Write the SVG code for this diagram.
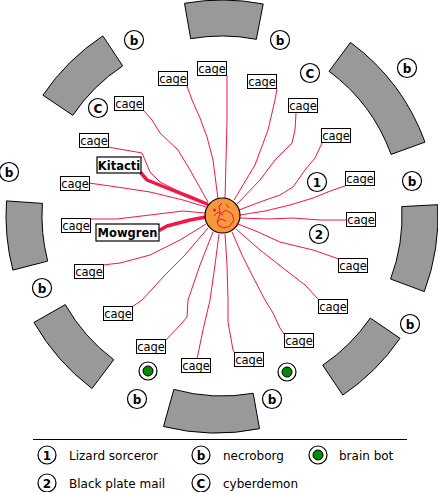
<svg xmlns="http://www.w3.org/2000/svg" width="438" height="492" viewBox="0 0 438 492">
<style>
.seg{fill:#999999;stroke:#000;stroke-width:1}
.cage rect{fill:#fff;stroke:#000;stroke-width:1}
.cage text{font-family:"DejaVu Sans",sans-serif;font-size:11.5px;text-anchor:middle;fill:#000}
.named rect{fill:#fff;stroke:#000;stroke-width:1.2}
.named text{font-family:"DejaVu Sans",sans-serif;font-size:11.5px;font-weight:bold;text-anchor:middle;fill:#000}
.badge circle{fill:#fff;stroke:#000;stroke-width:1.2}
.badge text{font-family:"DejaVu Sans",sans-serif;font-size:12px;font-weight:bold;text-anchor:middle;fill:#000}
.bot circle.o{fill:#fff;stroke:#000;stroke-width:1.2}
.bot circle.i{fill:#008a00;stroke:#000;stroke-width:1}
.wire{fill:none;stroke:#f01846;stroke-width:1}
.thick{fill:none;stroke:#f01846;stroke-width:3.5;stroke-linecap:round;stroke-linejoin:round}
.leg{font-family:"DejaVu Sans",sans-serif;font-size:12px;fill:#000}
</style>

<g id="ring">
<path class="seg" d="M263.2,4.0 A216,216 0 0 0 184.5,3.3 L190.7,38.7 A180,180 0 0 1 256.3,39.3 Z"/>
<path class="seg" d="M425.0,142.1 A216,216 0 0 0 350.5,42.4 L329.1,71.3 A180,180 0 0 1 391.1,154.4 Z"/>
<path class="seg" d="M424.3,291.6 A216,216 0 0 0 437.7,204.7 L401.8,206.6 A180,180 0 0 1 390.6,279.0 Z"/>
<path class="seg" d="M342.8,395.1 A216,216 0 0 0 400.0,338.3 L370.3,318.0 A180,180 0 0 1 322.7,365.2 Z"/>
<path class="seg" d="M163.5,426.5 A216,216 0 0 0 259.5,428.7 L253.2,393.3 A180,180 0 0 1 173.9,389.4 Z"/>
<path class="seg" d="M34.0,322.4 A216,216 0 0 0 92.0,388.5 L113.7,359.7 A180,180 0 0 1 65.3,304.6 Z"/>
<path class="seg" d="M6.5,200.9 A216,216 0 0 0 12.9,270.1 L47.7,261.1 A180,180 0 0 1 42.4,203.4 Z"/>
<path class="seg" d="M102.8,35.9 A216,216 0 0 0 42.9,95.2 L72.8,115.3 A180,180 0 0 1 122.7,65.9 Z"/>
</g>

<g id="connectors">
<polyline class="wire" points="144,111 152,120 160,133 178,150 190,170 208,202"/>
<polyline class="wire" points="187,86 192,100 200,118 207,137 213,160 218,199"/>
<polyline class="wire" points="227,76 227,120 226,160 225,199"/>
<polyline class="wire" points="277,89 275,100 268,130 255,165 234,200"/>
<polyline class="wire" points="296,113 295,130 292,143 285,150 275,160 260,180 237,204"/>
<polyline class="wire" points="322,143 315,158 305,170 293,187 280,195 260,202 239,210"/>
<polyline class="wire" points="345,186 333,190 313,198 290,205 265,211 240,215"/>
<polyline class="wire" points="347,220 320,220 293,218 268,219 240,218"/>
<polyline class="wire" points="339,259 313,250 280,242 258,232 238,224"/>
<polyline class="wire" points="319,300 305,285 283,268 260,250 236,229"/>
<polyline class="wire" points="284,334 280,328 273,313 265,300 252,275 242,255 232,232"/>
<polyline class="wire" points="235,353 233,350 228,322 228,300 227,265 225,234"/>
<polyline class="wire" points="197,359 203,330 210,300 215,265 219,234"/>
<polyline class="wire" points="166,340 182,323 187,317 188,300 200,265 213,232"/>
<polyline class="wire" points="132,307 142,300 165,275 185,255 208,228"/>
<polyline class="wire" points="103,265 120,263 150,255 180,240 206,224"/>
<polyline class="wire" points="90,219 117,219 150,215 183,211 205,213"/>
<polyline class="wire" points="89,183 117,187 150,192 183,200 206,207"/>
<polyline class="wire" points="108,147 142,153 150,172 160,182 190,197 207,203"/>
<polyline class="thick" points="141,173 147,180 167,188 190,197 207,204"/>
<polyline class="thick" points="160,230 167,226 190,220 206,217"/>
</g>

<g id="core">
<circle cx="222.5" cy="215.5" r="17.5" fill="#f7993a" stroke="#000" stroke-width="1.2"/>
<circle cx="214.5" cy="210" r="1.5" fill="#f01846"/>
<path d="M217,222 L220,214 L219,206 L222,203 M220,214 L226,210 L232,214 L234,220 L230,226 L224,228 L219,226 L217,222 L221,219 L226,221 M214,216 L218,212 L223,215 M226,204 L229,208" fill="none" stroke="#f01846" stroke-width="1"/>
</g>

<g id="cages" class="cage">
<g id="cage1"><rect x="114.5" y="96.5" width="29" height="14"/><text x="129" y="107.5">cage</text></g>
<g id="cage2"><rect x="158.5" y="71.5" width="29" height="14"/><text x="173" y="82.5">cage</text></g>
<g id="cage3"><rect x="197.5" y="61.5" width="29" height="14"/><text x="212" y="72.5">cage</text></g>
<g id="cage4"><rect x="247.5" y="74.5" width="29" height="14"/><text x="262" y="85.5">cage</text></g>
<g id="cage5"><rect x="288.5" y="98.5" width="29" height="14"/><text x="303" y="109.5">cage</text></g>
<g id="cage6"><rect x="321.5" y="128.5" width="29" height="14"/><text x="336" y="139.5">cage</text></g>
<g id="cage7"><rect x="345.5" y="171.5" width="29" height="14"/><text x="360" y="182.5">cage</text></g>
<g id="cage8"><rect x="346.5" y="212.5" width="29" height="14"/><text x="361" y="223.5">cage</text></g>
<g id="cage9"><rect x="338.5" y="258.5" width="29" height="14"/><text x="353" y="269.5">cage</text></g>
<g id="cage10"><rect x="318.5" y="299.5" width="29" height="14"/><text x="333" y="310.5">cage</text></g>
<g id="cage11"><rect x="284.5" y="333.5" width="29" height="14"/><text x="299" y="344.5">cage</text></g>
<g id="cage12"><rect x="234.5" y="352.5" width="29" height="14"/><text x="249" y="363.5">cage</text></g>
<g id="cage13"><rect x="181.5" y="358.5" width="29" height="14"/><text x="196" y="369.5">cage</text></g>
<g id="cage14"><rect x="136.5" y="339.5" width="29" height="14"/><text x="151" y="350.5">cage</text></g>
<g id="cage15"><rect x="103.5" y="306.5" width="29" height="14"/><text x="118" y="317.5">cage</text></g>
<g id="cage16"><rect x="74.5" y="264.5" width="29" height="14"/><text x="89" y="275.5">cage</text></g>
<g id="cage17"><rect x="61.5" y="218.5" width="29" height="14"/><text x="76" y="229.5">cage</text></g>
<g id="cage18"><rect x="60.5" y="176.5" width="29" height="14"/><text x="75" y="187.5">cage</text></g>
<g id="cage19"><rect x="79.5" y="133.5" width="29" height="14"/><text x="94" y="144.5">cage</text></g>
</g>

<g id="named" class="named">
<g id="kitacti"><rect x="97" y="157" width="44" height="16"/><text x="119" y="169.5">Kitacti</text></g>
<g id="mowgren"><rect x="96" y="224" width="63" height="17"/><text x="127.5" y="237">Mowgren</text></g>
</g>

<g id="badges" class="badge">
<g><circle cx="134" cy="40" r="9.5"/><text x="134" y="44.5">b</text></g>
<g><circle cx="280" cy="40" r="9.5"/><text x="280" y="44.5">b</text></g>
<g><circle cx="407" cy="68" r="9.5"/><text x="407" y="72.5">b</text></g>
<g><circle cx="412" cy="181" r="9.5"/><text x="412" y="185.5">b</text></g>
<g><circle cx="9" cy="172" r="9.5"/><text x="9" y="176.5">b</text></g>
<g><circle cx="42" cy="288" r="9.5"/><text x="42" y="292.5">b</text></g>
<g><circle cx="410" cy="324" r="9.5"/><text x="410" y="328.5">b</text></g>
<g><circle cx="137" cy="399" r="9.5"/><text x="137" y="403.5">b</text></g>
<g><circle cx="272" cy="399" r="9.5"/><text x="272" y="403.5">b</text></g>
<g><circle cx="98" cy="108" r="9.5"/><text x="98" y="112.5">C</text></g>
<g><circle cx="310" cy="73" r="9.5"/><text x="310" y="77.5">C</text></g>
<g><circle cx="317" cy="182" r="9.5"/><text x="317" y="186.5">1</text></g>
<g><circle cx="319" cy="234" r="9.5"/><text x="319" y="238.5">2</text></g>
</g>

<g id="bots" class="bot">
<g><circle class="o" cx="148" cy="371" r="9"/><circle class="i" cx="148" cy="371" r="5"/></g>
<g><circle class="o" cx="287" cy="372" r="9"/><circle class="i" cx="287" cy="372" r="5"/></g>
</g>

<g id="legend">
<line x1="33" y1="439.5" x2="407" y2="439.5" stroke="#000" stroke-width="1"/>
<g class="badge"><circle cx="47" cy="455" r="9"/><text x="47" y="459.5">1</text></g>
<text class="leg" x="69" y="459.5">Lizard sorceror</text>
<g class="badge"><circle cx="47" cy="483" r="9"/><text x="47" y="487.5">2</text></g>
<text class="leg" x="69" y="487.5">Black plate mail</text>
<g class="badge"><circle cx="201" cy="455" r="9"/><text x="201" y="459.5">b</text></g>
<text class="leg" x="223" y="459.5">necroborg</text>
<g class="badge"><circle cx="201" cy="483" r="9"/><text x="201" y="487.5">C</text></g>
<text class="leg" x="223" y="487.5">cyberdemon</text>
<g class="bot"><circle class="o" cx="318" cy="455" r="9"/><circle class="i" cx="318" cy="455" r="5"/></g>
<text class="leg" x="339" y="459.5">brain bot</text>
</g>
</svg>
